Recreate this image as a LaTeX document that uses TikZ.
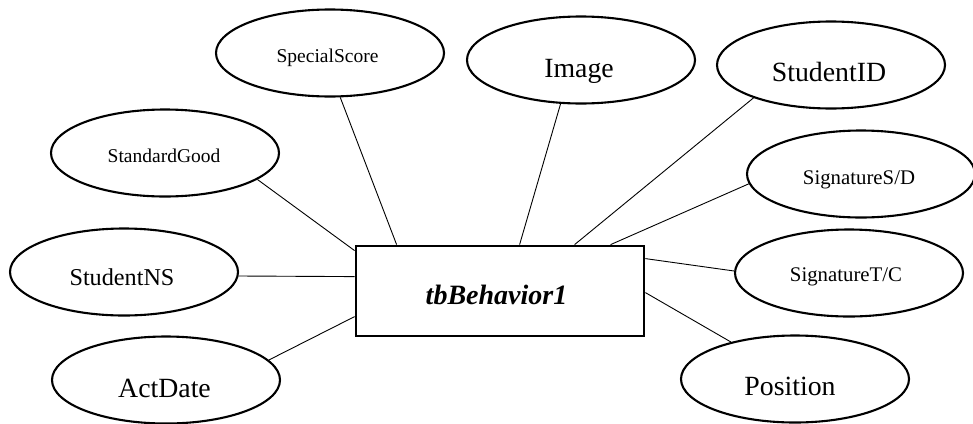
\documentclass[tikz,border=0pt]{standalone}
\usepackage{fontspec}
\setmainfont{Liberation Serif}
\usetikzlibrary{shapes.geometric}
\tikzset{
  attr/.style={draw, ellipse, line width=2.1pt, inner sep=0pt, minimum width=228pt, minimum height=87pt},
  entity/.style={draw, rectangle, line width=2.8pt, inner sep=0pt, minimum width=288pt, minimum height=90pt},
  conn/.style={line width=0.9pt},
  lbl/.style={anchor=base, inner sep=0pt},
  small/.style={font=\fontsize{19.5}{22}\selectfont},
  smallb/.style={font=\fontsize{20.8}{24}\selectfont},
  mid/.style={font=\fontsize{24.2}{28}\selectfont},
  big/.style={font=\fontsize{27.8}{32}\selectfont}
}
\begin{document}
\begin{tikzpicture}[x=1pt,y=-1pt]
\useasboundingbox (0,0) rectangle (973,423);
% entity
\node[entity] (tb) at (500,291) {};
\node[lbl, font=\fontsize{28}{32}\selectfont\bfseries\itshape] (tbt) at (496.5,304) {tbBehavior1};
% attributes
\node[attr] (ss) at (330,53) {};
\node[lbl, small] (sst) at (327.5,62) {SpecialScore};
\node[attr] (sg) at (165,153) {};
\node[lbl, small] (sgt) at (164,162) {StandardGood};
\node[attr] (img) at (581,60) {};
\node[lbl, big] (imgt) at (579,77) {Image};
\node[attr] (sid) at (831,65) {};
\node[lbl, big] (sidt) at (829,81) {StudentID};
\node[attr] (ssd) at (861,174) {};
\node[lbl, smallb] (ssdt) at (859,184) {SignatureS/D};
\node[attr] (stc) at (849,273) {};
\node[lbl, smallb] (stct) at (846,281) {SignatureT/C};
\node[attr] (pos) at (795,379) {};
\node[lbl, big] (post) at (790,395) {Position};
\node[attr] (sns) at (124,272) {};
\node[lbl, mid] (snst) at (122,285) {StudentNS};
\node[attr] (ad) at (166,380) {};
\node[lbl, big] (adt) at (164.5,397) {ActDate};
% connectors
\draw[conn] (sg.-16) -- ([yshift=-6]tb.north west);
\draw[conn] (ss.-77) -- ([xshift=42]tb.north west);
\draw[conn] (img.-115) -- ([xshift=165]tb.north west);
\draw[conn] (sid.-157) -- ([xshift=220]tb.north west);
\draw[conn] (ssd.-175) -- ([xshift=256]tb.north west);
\draw[conn] (stc.179) -- ([yshift=-14]tb.north east);
\draw[conn] (pos.150) -- ([yshift=-48]tb.north east);
\draw[conn] (sns.-2.5) -- ([yshift=-32]tb.north west);
\draw[conn] (ad.11) -- ([yshift=-72]tb.north west);
\end{tikzpicture}
\end{document}
